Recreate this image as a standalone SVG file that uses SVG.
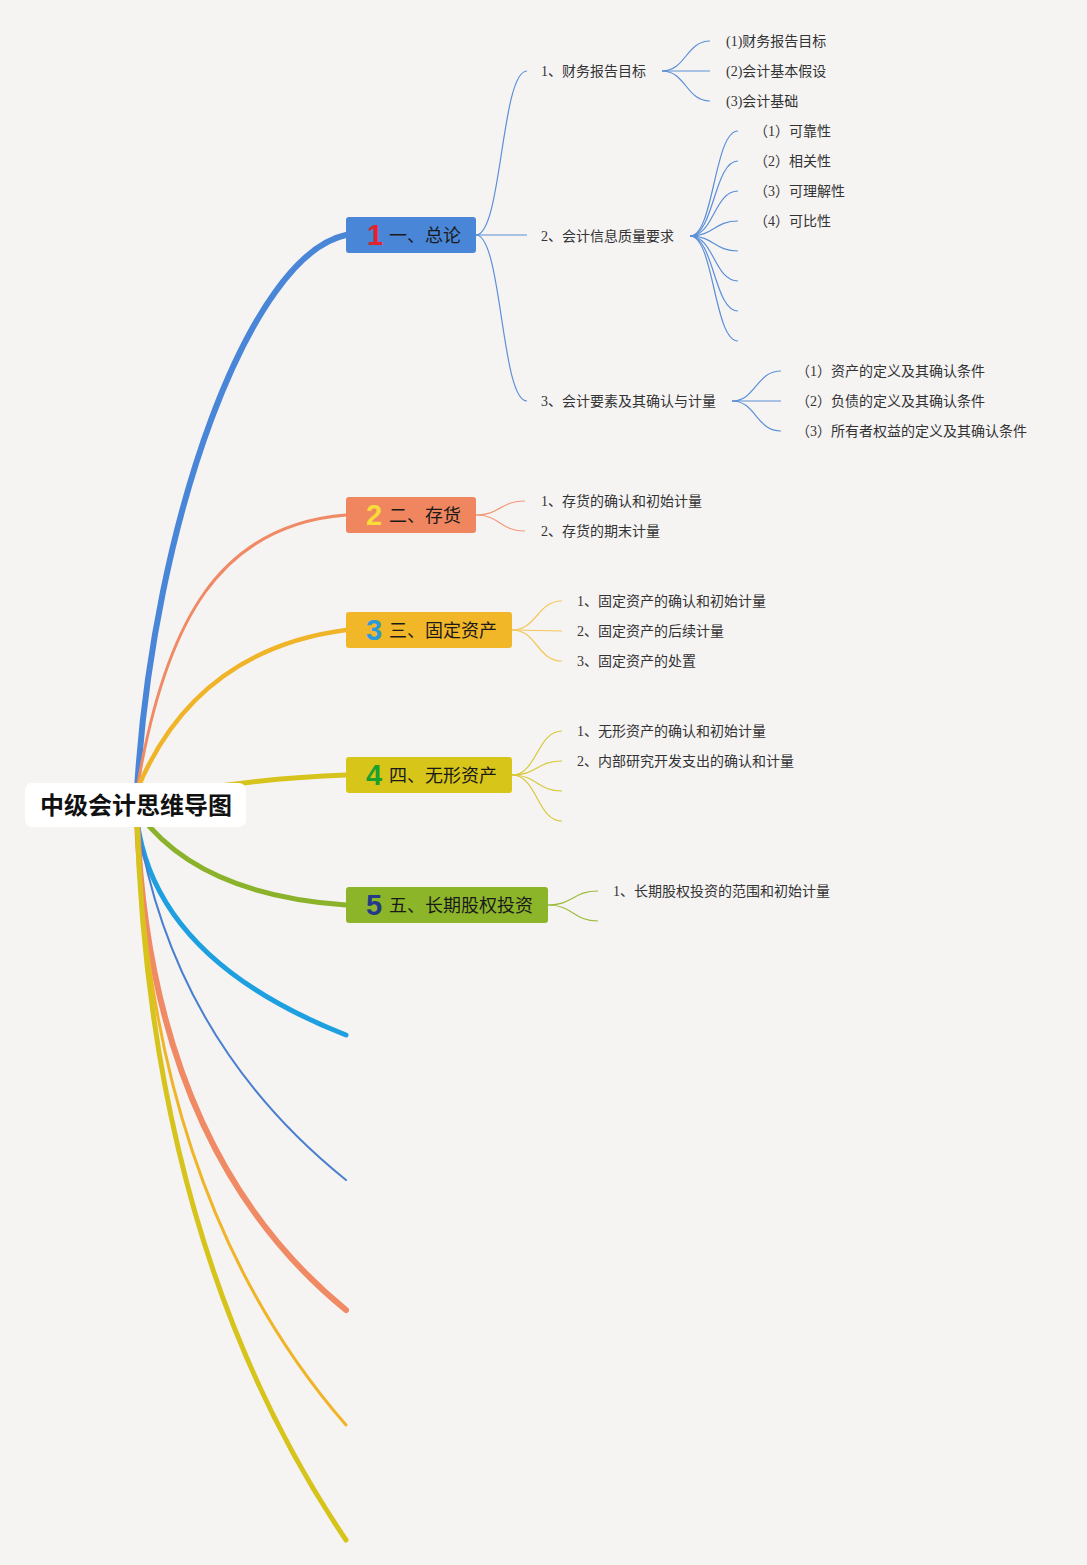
<svg xmlns="http://www.w3.org/2000/svg" width="1087" height="1565" viewBox="0 0 1087 1565">
<style>
.bg{fill:#f5f4f3}
.main{fill:none;stroke-linecap:round}
.sub{fill:none;stroke-width:1.2}
.t{font-family:"Liberation Serif","Noto Sans CJK SC",serif;font-size:14px;fill:#333}
.nt{font-family:"Liberation Serif","Noto Sans CJK SC",sans-serif;font-size:18px;fill:#1a1a1a}
.num{font-family:"Liberation Sans","DejaVu Sans",sans-serif;font-size:29px;font-weight:bold;text-anchor:middle}
.root{font-family:"Noto Sans CJK SC",sans-serif;font-size:24px;font-weight:bold;fill:#111;text-anchor:middle}
</style>
<rect class="bg" x="0" y="0" width="1087" height="1565"/>
<g id="connectors">
  <path class="main" stroke="#4a86d8" stroke-width="6" d="M137,790 C153,520 250,255 346,235"/>
  <path class="main" stroke="#f08a65" stroke-width="3" d="M137,790 C165,620 220,525 346,515"/>
  <path class="main" stroke="#f0b429" stroke-width="4.5" d="M137,790 Q195,650 346,630"/>
  <path class="main" stroke="#d6c41c" stroke-width="5" d="M137,800 Q250,778 346,775"/>
  <path class="main" stroke="#8ab22a" stroke-width="5" d="M140,815 Q200,895 346,905"/>
  <path class="main" stroke="#1ea0e0" stroke-width="5" d="M137,820 Q155,960 346,1035"/>
  <path class="main" stroke="#4a7fd0" stroke-width="2" d="M137,820 Q172,1040 346,1180"/>
  <path class="main" stroke="#f08a65" stroke-width="6" d="M137,820 Q150,1150 346,1310"/>
  <path class="main" stroke="#f0b429" stroke-width="3" d="M137,820 Q150,1200 346,1425"/>
  <path class="main" stroke="#d6c41c" stroke-width="5" d="M137,820 Q150,1250 346,1540"/>
  <g stroke="#5b8fd8">
    <path class="sub" d="M476,235 C502,235 501,71 527,71"/>
    <path class="sub" d="M476,235 L527,235"/>
    <path class="sub" d="M476,235 C502,235 501,401 527,401"/>
    <path class="sub" d="M662,71 C686,71 686,41 710,41"/>
    <path class="sub" d="M662,71 L710,71"/>
    <path class="sub" d="M662,71 C686,71 686,101 710,101"/>
    <path class="sub" d="M690,236 C714,236 714,131 738,131"/>
    <path class="sub" d="M690,236 C714,236 714,161 738,161"/>
    <path class="sub" d="M690,236 C714,236 714,191 738,191"/>
    <path class="sub" d="M690,236 C714,236 714,221 738,221"/>
    <path class="sub" d="M690,236 C714,236 714,251 738,251"/>
    <path class="sub" d="M690,236 C714,236 714,281 738,281"/>
    <path class="sub" d="M690,236 C714,236 714,311 738,311"/>
    <path class="sub" d="M690,236 C714,236 714,341 738,341"/>
    <path class="sub" d="M732,401 C756,401 756,371 781,371"/>
    <path class="sub" d="M732,401 L781,401"/>
    <path class="sub" d="M732,401 C756,401 756,431 781,431"/>
  </g>
  <g stroke="#f09a7a">
    <path class="sub" d="M476,515 C500,515 500,501 525,501"/>
    <path class="sub" d="M476,515 C500,515 500,531 525,531"/>
  </g>
  <g stroke="#f5c75a">
    <path class="sub" d="M512,630 C537,630 537,601 562,601"/>
    <path class="sub" d="M512,630 L562,631"/>
    <path class="sub" d="M512,630 C537,630 537,661 562,661"/>
  </g>
  <g stroke="#d8c83a">
    <path class="sub" d="M512,775 C537,775 537,731 562,731"/>
    <path class="sub" d="M512,775 C537,775 537,761 562,761"/>
    <path class="sub" d="M512,775 C537,775 537,791 562,791"/>
    <path class="sub" d="M512,775 C537,775 537,821 562,821"/>
  </g>
  <g stroke="#9bbd3a">
    <path class="sub" d="M548,905 C573,905 573,891 598,891"/>
    <path class="sub" d="M548,905 C573,905 573,921 598,921"/>
  </g>
</g>
<g id="root">
  <rect x="25" y="783" width="221" height="44" rx="7" fill="#ffffff"/>
  <text class="root" x="136" y="814">中级会计思维导图</text>
</g>
<g id="n1">
  <rect x="346" y="217" width="130" height="36" rx="3" fill="#4a86d8"/>
  <text class="num" x="375" y="245" fill="#e0242c">1</text>
  <text class="nt" x="389" y="242">一、总论</text>
</g>
<g id="n1-1"><text class="t" x="541" y="76">1、财务报告目标</text></g>
<g id="n1-1-1"><text class="t" x="726" y="46">(1)财务报告目标</text></g>
<g id="n1-1-2"><text class="t" x="726" y="76">(2)会计基本假设</text></g>
<g id="n1-1-3"><text class="t" x="726" y="106">(3)会计基础</text></g>
<g id="n1-2"><text class="t" x="541" y="241">2、会计信息质量要求</text></g>
<g id="n1-2-1"><text class="t" x="754" y="136">（1）可靠性</text></g>
<g id="n1-2-2"><text class="t" x="754" y="166">（2）相关性</text></g>
<g id="n1-2-3"><text class="t" x="754" y="196">（3）可理解性</text></g>
<g id="n1-2-4"><text class="t" x="754" y="226">（4）可比性</text></g>
<g id="n1-3"><text class="t" x="541" y="406">3、会计要素及其确认与计量</text></g>
<g id="n1-3-1"><text class="t" x="796" y="376">（1）资产的定义及其确认条件</text></g>
<g id="n1-3-2"><text class="t" x="796" y="406">（2）负债的定义及其确认条件</text></g>
<g id="n1-3-3"><text class="t" x="796" y="436">（3）所有者权益的定义及其确认条件</text></g>
<g id="n2">
  <rect x="346" y="497" width="130" height="36" rx="3" fill="#f0865f"/>
  <text class="num" x="374" y="525" fill="#f7dc3c">2</text>
  <text class="nt" x="389" y="522">二、存货</text>
</g>
<g id="n2-1"><text class="t" x="541" y="506">1、存货的确认和初始计量</text></g>
<g id="n2-2"><text class="t" x="541" y="536">2、存货的期末计量</text></g>
<g id="n3">
  <rect x="346" y="612" width="166" height="36" rx="3" fill="#f2b729"/>
  <text class="num" x="374" y="640" fill="#2a9ad8">3</text>
  <text class="nt" x="389" y="637">三、固定资产</text>
</g>
<g id="n3-1"><text class="t" x="577" y="606">1、固定资产的确认和初始计量</text></g>
<g id="n3-2"><text class="t" x="577" y="636">2、固定资产的后续计量</text></g>
<g id="n3-3"><text class="t" x="577" y="666">3、固定资产的处置</text></g>
<g id="n4">
  <rect x="346" y="757" width="166" height="36" rx="3" fill="#d8c51a"/>
  <text class="num" x="374" y="785" fill="#1ca02c">4</text>
  <text class="nt" x="389" y="782">四、无形资产</text>
</g>
<g id="n4-1"><text class="t" x="577" y="736">1、无形资产的确认和初始计量</text></g>
<g id="n4-2"><text class="t" x="577" y="766">2、内部研究开发支出的确认和计量</text></g>
<g id="n5">
  <rect x="346" y="887" width="202" height="36" rx="3" fill="#8db52a"/>
  <text class="num" x="374" y="915" fill="#24398a">5</text>
  <text class="nt" x="389" y="912">五、长期股权投资</text>
</g>
<g id="n5-1"><text class="t" x="613" y="896">1、长期股权投资的范围和初始计量</text></g>
</svg>
